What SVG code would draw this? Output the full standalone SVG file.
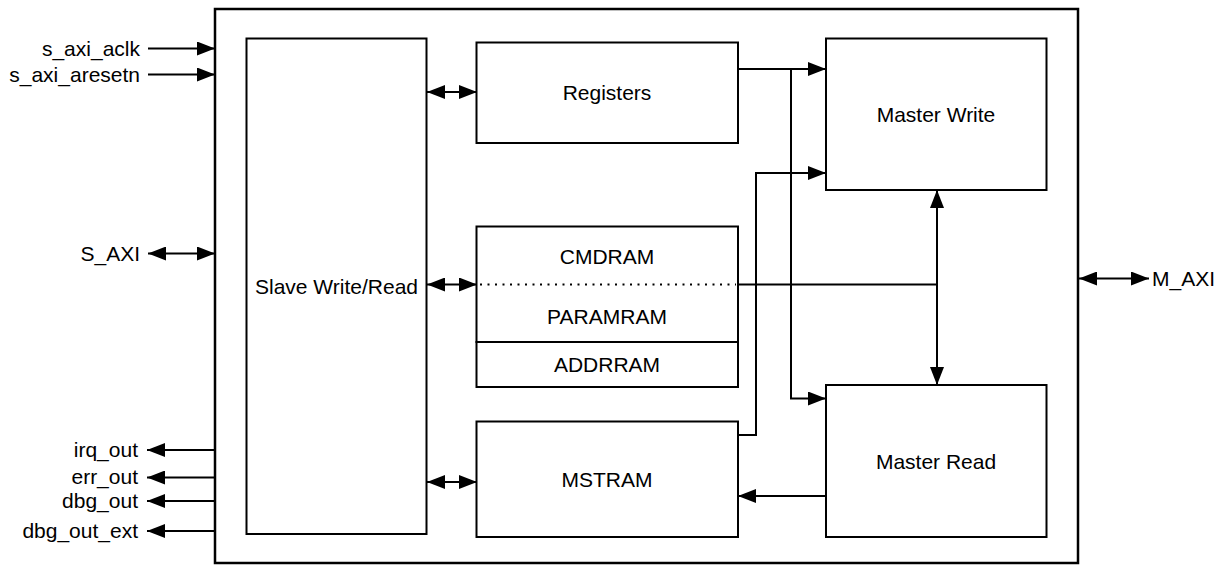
<svg xmlns="http://www.w3.org/2000/svg" width="1228" height="565" viewBox="0 0 1228 565">
<style>
.box{fill:#fff;stroke:#000;stroke-width:2}
.outer{fill:#fff;stroke:#000;stroke-width:2.5}
.ln{fill:none;stroke:#000;stroke-width:2}
.dot{fill:none;stroke:#000;stroke-width:2;stroke-dasharray:2 5.5}
text{font-family:"Liberation Sans",Arial,sans-serif;font-size:21px;fill:#000}
.c{text-anchor:middle;dominant-baseline:central}
.r{text-anchor:end;dominant-baseline:central}
.l{text-anchor:start;dominant-baseline:central}
</style>
<defs>
<marker id="ah" markerWidth="18" markerHeight="14" refX="18" refY="7" orient="auto" markerUnits="userSpaceOnUse">
<path d="M0,0 L18,7 L0,14 Z" fill="#000"/>
</marker>
<marker id="as" markerWidth="18" markerHeight="14" refX="0" refY="7" orient="auto" markerUnits="userSpaceOnUse">
<path d="M18,0 L0,7 L18,14 Z" fill="#000"/>
</marker>
</defs>
<rect width="1228" height="565" fill="#fff"/>
<g id="outer"><rect class="outer" x="215" y="9" width="863" height="554"/></g>
<g id="slave"><rect class="box" x="246.5" y="38.5" width="180" height="495.5"/><text class="c" x="336.5" y="286">Slave Write/Read</text></g>
<g id="registers"><rect class="box" x="476.5" y="42.5" width="261.5" height="100.5"/><text class="c" x="607" y="92.5">Registers</text></g>
<g id="cmdram"><rect class="box" x="476.5" y="226.5" width="261.5" height="115.5"/><text class="c" x="607" y="256.5">CMDRAM</text><text class="c" x="607" y="316.5">PARAMRAM</text><line class="dot" x1="480" y1="284.5" x2="736" y2="284.5"/></g>
<g id="addrram"><rect class="box" x="476.5" y="342" width="261.5" height="45"/><text class="c" x="607" y="364">ADDRRAM</text></g>
<g id="mstram"><rect class="box" x="476.5" y="421.5" width="261.5" height="115.5"/><text class="c" x="607" y="479">MSTRAM</text></g>
<g id="masterwrite"><rect class="box" x="826" y="38.5" width="220.5" height="151.5"/><text class="c" x="936" y="114">Master Write</text></g>
<g id="masterread"><rect class="box" x="826" y="385" width="220.5" height="152"/><text class="c" x="936" y="461">Master Read</text></g>
<g id="connectors">
<line class="ln" x1="148" y1="48.5" x2="215" y2="48.5" marker-end="url(#ah)"/>
<line class="ln" x1="148" y1="74.5" x2="215" y2="74.5" marker-end="url(#ah)"/>
<line class="ln" x1="148" y1="253.5" x2="215" y2="253.5" marker-start="url(#as)" marker-end="url(#ah)"/>
<line class="ln" x1="215" y1="450" x2="147" y2="450" marker-end="url(#ah)"/>
<line class="ln" x1="215" y1="477.5" x2="147" y2="477.5" marker-end="url(#ah)"/>
<line class="ln" x1="215" y1="501" x2="147" y2="501" marker-end="url(#ah)"/>
<line class="ln" x1="215" y1="531" x2="147" y2="531" marker-end="url(#ah)"/>
<line class="ln" x1="427" y1="92" x2="477" y2="92" marker-start="url(#as)" marker-end="url(#ah)"/>
<line class="ln" x1="427" y1="284.5" x2="477" y2="284.5" marker-start="url(#as)" marker-end="url(#ah)"/>
<line class="ln" x1="427" y1="482" x2="477" y2="482" marker-start="url(#as)" marker-end="url(#ah)"/>
<polyline class="ln" points="738,69 826,69" marker-end="url(#ah)"/>
<polyline class="ln" points="791,69 791,398.5 826,398.5" marker-end="url(#ah)"/>
<polyline class="ln" points="738,435 756,435 756,173 826,173" marker-end="url(#ah)"/>
<line class="ln" x1="738" y1="284.5" x2="937" y2="284.5"/>
<line class="ln" x1="937" y1="190" x2="937" y2="385" marker-start="url(#as)" marker-end="url(#ah)"/>
<line class="ln" x1="826" y1="496" x2="738" y2="496" marker-end="url(#ah)"/>
<line class="ln" x1="1079" y1="278.5" x2="1149" y2="278.5" marker-start="url(#as)" marker-end="url(#ah)"/>
</g>
<g id="labels">
<text class="r" x="140" y="48">s_axi_aclk</text>
<text class="r" x="140" y="74">s_axi_aresetn</text>
<text class="r" x="140" y="253">S_AXI</text>
<text class="r" x="138" y="449.5">irq_out</text>
<text class="r" x="138" y="476.5">err_out</text>
<text class="r" x="138" y="500.5">dbg_out</text>
<text class="r" x="138" y="530.5">dbg_out_ext</text>
<text class="l" x="1152" y="278">M_AXI</text>
</g>
</svg>
